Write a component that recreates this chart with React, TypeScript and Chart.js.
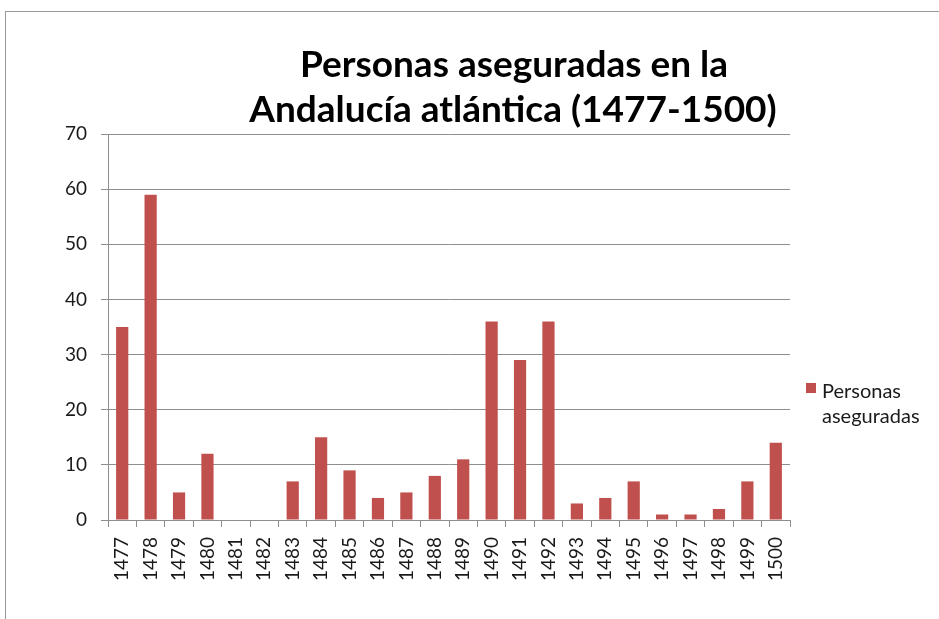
import React, { useEffect, useRef } from "react";
import { Chart, registerables } from "chart.js";

Chart.register(...registerables);

const years = ["1477","1478","1479","1480","1481","1482","1483","1484","1485","1486","1487","1488","1489","1490","1491","1492","1493","1494","1495","1496","1497","1498","1499","1500"];
const personas = [35, 59, 5, 12, 0, 0, 7, 15, 9, 4, 5, 8, 11, 36, 29, 36, 3, 4, 7, 1, 1, 2, 7, 14];
const seriesLabel = "Personas aseguradas";
const titleLines = ["Personas aseguradas en la", "Andalucía atlántica (1477-1500)"];
const legendLines = ["Personas", "aseguradas"];
const BAR_COLOR = "#c0504d";
const GRID_COLOR = "#8e8e8e";
const FONT = "Lato, 'Open Sans', sans-serif";

const overlay = {
  id: "overlay",
  afterDraw(chart: any) {
    const ctx = chart.ctx;
    ctx.save();
    ctx.fillStyle = "#000";
    ctx.textAlign = "center";
    ctx.textBaseline = "middle";
    ctx.font = `bold 37px ${FONT}`;
    ctx.fillText(titleLines[0], 514, 65, 434);
    ctx.fillText(titleLines[1], 513, 110, 528);
    // legend
    ctx.fillStyle = chart.data.datasets[0].backgroundColor;
    ctx.fillRect(806, 383, 10, 10);
    ctx.fillStyle = "#1a1a1a";
    ctx.textAlign = "left";
    ctx.font = `20px ${FONT}`;
    ctx.fillText(legendLines[0], 822, 392);
    ctx.fillText(legendLines[1], 822, 417);
    ctx.restore();
  },
};

export default function App() {
  const ref = useRef<HTMLCanvasElement>(null);
  useEffect(() => {
    document.body.style.margin = "0";
    const chart = new Chart(ref.current!, {
      type: "bar",
      data: {
        labels: years,
        datasets: [
          {
            label: seriesLabel,
            data: personas,
            backgroundColor: BAR_COLOR,
            barPercentage: 0.43,
            categoryPercentage: 1,
          },
        ],
      },
      options: {
        animation: false,
        responsive: false,
        maintainAspectRatio: false,
        layout: { padding: { top: 134, right: 149, left: 0, bottom: 0 } },
        plugins: {
          legend: { display: false },
          title: { display: false },
          tooltip: { enabled: false },
        },
        scales: {
          x: {
            afterFit(scale: any) {
              scale.height = 99;
            },
            grid: {
              drawOnChartArea: false,
              drawTicks: true,
              tickLength: 7,
              color: GRID_COLOR,
            },
            border: { color: GRID_COLOR },
            ticks: {
              minRotation: 90,
              maxRotation: 90,
              autoSkip: false,
              padding: 10,
              color: "#1a1a1a",
              font: { family: FONT, size: 19 },
            },
          },
          y: {
            min: 0,
            max: 70,
            afterFit(scale: any) {
              scale.width = 108;
            },
            grid: {
              color: GRID_COLOR,
              tickLength: 7,
            },
            border: { color: GRID_COLOR },
            ticks: {
              stepSize: 10,
              padding: 14,
              color: "#1a1a1a",
              font: { family: FONT, size: 19 },
            },
          },
        },
      },
      plugins: [overlay],
    });
    return () => chart.destroy();
  }, []);
  return (
    <div style={{ position: "relative", width: 939, height: 619, background: "#fff" }}>
      <div
        style={{
          position: "absolute",
          left: 5,
          top: 11,
          right: 0,
          bottom: 0,
          borderTop: "1px solid #999",
          borderLeft: "1px solid #999",
        }}
      />
      <canvas ref={ref} width={939} height={619} style={{ position: "absolute", left: 0, top: 0 }} />
    </div>
  );
}
